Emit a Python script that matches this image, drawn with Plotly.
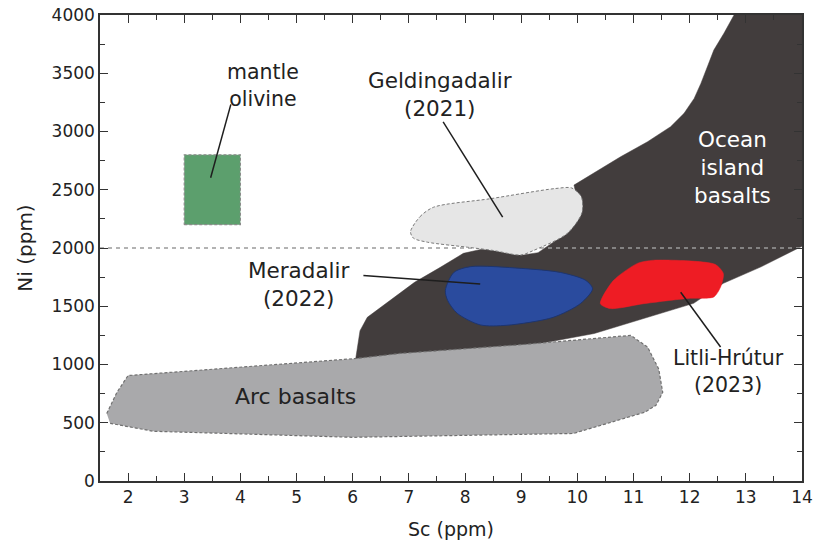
import plotly.graph_objects as go

# ---- data (Sc ppm, Ni ppm) ----
oib_sc = [6.05, 6.1, 6.13, 6.26, 6.6, 7.1, 7.56, 7.97, 8.3, 8.6, 9.0, 9.3, 9.8, 10.05, 9.94,
          10.29, 10.77, 11.25, 11.66, 11.9, 12.08, 12.2, 12.31, 12.43, 12.61, 12.79, 14.0, 14.0,
          13.27, 12.6, 12.07, 11.48, 10.9, 10.3, 9.34, 8.15, 6.97, 6.0]
oib_ni = [1040, 1200, 1290, 1405, 1525, 1705, 1834, 1954, 1990, 1975, 1937, 1960, 2125, 2300, 2540,
          2640, 2783, 2912, 3041, 3156, 3284, 3413, 3556, 3699, 3843, 4000, 4000, 2015,
          1838, 1697, 1525, 1438, 1352, 1266, 1180, 1105, 1062, 1036]

arc_sc = [1.62, 1.8, 2.0, 4.0, 6.07, 6.85, 9.0, 10.95, 11.25, 11.45, 11.52, 11.4, 11.2, 9.93, 6.0, 2.45, 1.68]
arc_ni = [580, 760, 905, 975, 1052, 1095, 1170, 1250, 1150, 960, 760, 650, 590, 408, 375, 427, 495]

geld_sc = [7.03, 7.2, 7.44, 8.45, 9.6, 9.9, 10.07, 10.08, 9.82, 9.22, 8.99, 8.5, 8.04, 7.33, 7.08]
geld_ni = [2140, 2270, 2350, 2423, 2510, 2515, 2440, 2300, 2125, 1979, 1940, 1979, 2007, 2050, 2085]

mera_sc = [7.65, 7.8, 8.1, 9.0, 9.7, 10.15, 10.27, 10.06, 9.57, 8.75, 8.27, 7.86, 7.69]
mera_ni = [1637, 1790, 1840, 1825, 1790, 1722, 1650, 1525, 1405, 1337, 1340, 1440, 1550]

litli_sc = [10.41, 10.64, 11.07, 11.36, 12.45, 12.6, 12.55, 12.43, 11.96, 11.18, 10.59]
litli_ni = [1522, 1720, 1868, 1895, 1860, 1780, 1665, 1580, 1567, 1522, 1480]

olivine_sc = [3, 4, 4, 3, 3]
olivine_ni = [2200, 2200, 2800, 2800, 2200]

ref_sc = [1.5, 14]
ref_ni = [2000, 2000]

# leader lines: [start, end]
lead_olivine = ([3.47, 3.83], [2603, 3233])
lead_geld = ([7.61, 8.67], [3082, 2265])
lead_mera = ([6.19, 8.27], [1765, 1692])
lead_litli = ([11.84, 12.55], [1620, 1150])

x_ticks = list(range(2, 15))
y_ticks = list(range(0, 4001, 500))

FONT = "DejaVu Sans, Liberation Sans, sans-serif"
TXT = "#222222"

fig = go.Figure()

fig.add_trace(go.Scatter(x=oib_sc, y=oib_ni, fill="toself", mode="lines",
                         fillcolor="#423d3d", line=dict(color="#423d3d", width=0.5),
                         hoverinfo="skip", showlegend=False))
fig.add_trace(go.Scatter(x=ref_sc, y=ref_ni, mode="lines",
                         line=dict(color="#9a9a9a", width=1.5, dash="4px,4px"),
                         hoverinfo="skip", showlegend=False))
fig.add_trace(go.Scatter(x=arc_sc, y=arc_ni, fill="toself", mode="lines",
                         fillcolor="#a9a9ab", line=dict(color="#707070", width=1.2, dash="3px,2px"),
                         hoverinfo="skip", showlegend=False))
fig.add_trace(go.Scatter(x=geld_sc + geld_sc[:1], y=geld_ni + geld_ni[:1], fill="toself", mode="lines",
                         fillcolor="#e6e6e6", line=dict(color="#7a7a7a", width=1, dash="3px,2px", shape="spline", smoothing=0.8),
                         hoverinfo="skip", showlegend=False))
fig.add_trace(go.Scatter(x=mera_sc + mera_sc[:1], y=mera_ni + mera_ni[:1], fill="toself", mode="lines",
                         fillcolor="#2a4b9e", line=dict(color="#1d3570", width=1, shape="spline", smoothing=0.8),
                         hoverinfo="skip", showlegend=False))
fig.add_trace(go.Scatter(x=litli_sc + litli_sc[:1], y=litli_ni + litli_ni[:1], fill="toself", mode="lines",
                         fillcolor="#ee1c24", line=dict(color="#ee1c24", width=0.5, shape="spline", smoothing=0.7),
                         hoverinfo="skip", showlegend=False))
fig.add_trace(go.Scatter(x=olivine_sc, y=olivine_ni, fill="toself", mode="lines",
                         fillcolor="#5c9f6d", line=dict(color="#8a8a8a", width=1.2, dash="3px,2px"),
                         hoverinfo="skip", showlegend=False))

for lx, ly in [lead_olivine, lead_geld, lead_mera, lead_litli]:
    fig.add_trace(go.Scatter(x=lx, y=ly, mode="lines", line=dict(color="#1e1e1e", width=1.5),
                             hoverinfo="skip", showlegend=False))

def label(x, y, text, color=TXT, size=21.5):
    fig.add_annotation(x=x, y=y, text=text, showarrow=False, xref="x", yref="y",
                       font=dict(family=FONT, size=size, color=color), align="center")

label(4.4, 3395, "mantle<br>olivine", size=20.5)
label(7.55, 3320, "Geldingadalir<br>(2021)")
label(12.77, 2690, "Ocean<br>island<br>basalts", color="#ffffff")
label(5.05, 1690, "Meradalir<br>(2022)")
label(12.7, 942, "Litli-Hrútur<br>(2023)", size=20.5)
label(4.98, 728, "Arc basalts", size=22)

axis_common = dict(showline=True, linecolor="#333333", linewidth=1.5, mirror="ticks",
                   ticks="inside", ticklen=8, tickwidth=1.3, tickcolor="#333333",
                   showgrid=False, zeroline=False, automargin=False,
                   tickfont=dict(family=FONT, size=17, color=TXT))

fig.update_xaxes(range=[1.5, 14], tickvals=x_ticks, ticktext=[str(v) for v in x_ticks],
                 minor=dict(ticks="inside", ticklen=5, tickwidth=1.2, tickcolor="#333333", dtick=0.5, tick0=1.5, showgrid=False),
                 title=dict(text="Sc (ppm)", font=dict(family=FONT, size=19, color=TXT), standoff=18),
                 **axis_common)
fig.update_yaxes(range=[0, 4000], tickvals=y_ticks, ticktext=[str(v) for v in y_ticks],
                 minor=dict(ticks="inside", ticklen=5, tickwidth=1.2, tickcolor="#333333", dtick=250, tick0=0, showgrid=False),
                 title=dict(text="Ni (ppm)", font=dict(family=FONT, size=20, color=TXT), standoff=14),
                 **axis_common)

fig.update_layout(width=814, height=540, margin=dict(l=100, r=12, t=15, b=59),
                  plot_bgcolor="white", paper_bgcolor="white", showlegend=False)

fig.write_html("out.html")
